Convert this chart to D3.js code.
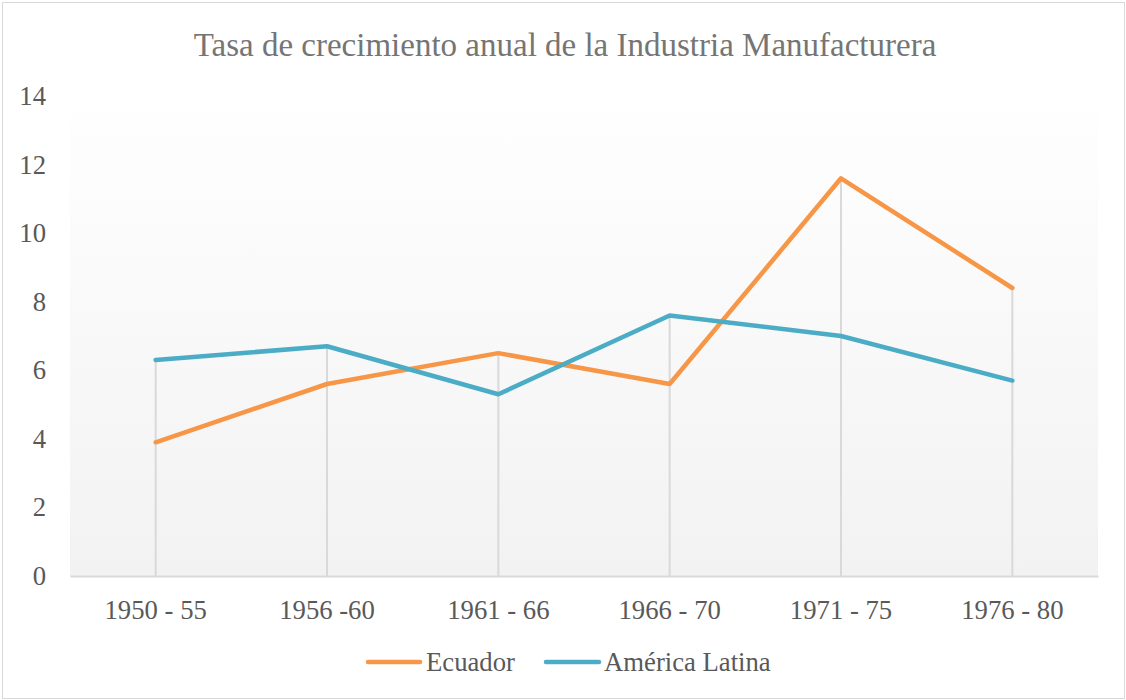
<!DOCTYPE html>
<html><head><meta charset="utf-8">
<script src="https://cdn.jsdelivr.net/npm/d3@7"></script>
<style>body{margin:0;background:#fff}svg{display:block}</style>
</head><body>
<svg id="c" width="1126" height="700"></svg>
<script>
const categories = ["1950 - 55","1956 -60","1961 - 66","1966 - 70","1971 - 75","1976 - 80"];
const ecuador = [3.9,5.6,6.5,5.6,11.6,8.4];
const latam = [6.3,6.7,5.3,7.6,7.0,5.7];
const yTicks = [0,2,4,6,8,10,12,14];
const seriesNames = ["Ecuador","América Latina"];
const colors = ["#F79646","#4BACC6"];

const FONT='"Liberation Serif","Times New Roman",Times,serif';
const svg = d3.select("#c");
const W=1126,H=700;
const m={l:70,r:1098,t:96,b:576};
svg.append("rect").attr("x",2.5).attr("y",2.5).attr("width",W-4).attr("height",H-4).attr("fill","#fff").attr("stroke","#d9d9d9");

const defs=svg.append("defs");
const g=defs.append("linearGradient").attr("id","bg").attr("x1",0).attr("y1",0).attr("x2",0).attr("y2",1);
g.append("stop").attr("offset","0%").attr("stop-color","#ffffff");
g.append("stop").attr("offset","100%").attr("stop-color","#f2f2f2");

const x=d3.scaleBand().domain(categories).range([m.l,m.r]);
const y=d3.scaleLinear().domain([0,14]).range([m.b,m.t]);

svg.append("rect").attr("x",m.l).attr("y",y(14)-10).attr("width",m.r-m.l).attr("height",m.b-y(14)+10).attr("fill","url(#bg)");

svg.append("text").attr("x",565).attr("y",56).attr("text-anchor","middle")
  .style("font-family",FONT).attr("font-size",33).attr("fill","#757575")
  .text("Tasa de crecimiento anual de la Industria Manufacturera");

// y labels
const yAxis=d3.axisLeft(y).tickValues(yTicks).tickSize(0).tickPadding(24);
const ya=svg.append("g").attr("transform",`translate(${m.l},0)`).call(yAxis);
ya.select(".domain").remove();
ya.selectAll("text").style("font-family",FONT).attr("font-size",26.7).attr("fill","#595959");

// drop lines
categories.forEach((c,i)=>{
  const top=Math.max(ecuador[i],latam[i]);
  svg.append("line").attr("x1",x(c)+x.bandwidth()/2).attr("x2",x(c)+x.bandwidth()/2)
    .attr("y1",y(top)).attr("y2",y(0)).attr("stroke","#d9d9d9").attr("stroke-width",2);
});

// x axis
const xAxis=d3.axisBottom(x).tickSize(0).tickPadding(24);
const xa=svg.append("g").attr("transform",`translate(0,${m.b})`).call(xAxis);
xa.select(".domain").attr("stroke","#d9d9d9").attr("stroke-width",2);
xa.selectAll("text").style("font-family",FONT).attr("font-size",26.7).attr("fill","#595959");

const line=d3.line().x((d,i)=>x(categories[i])+x.bandwidth()/2).y(d=>y(d));
[ecuador,latam].forEach((s,k)=>{
  svg.append("path").datum(s).attr("d",line).attr("fill","none").attr("stroke",colors[k])
   .attr("stroke-width",4.5).attr("stroke-linejoin","round").attr("stroke-linecap","round");
});

// legend
const lg=[{x1:368,x2:420,tx:426},{x1:546,x2:599,tx:604}];
seriesNames.forEach((n,k)=>{
  svg.append("line").attr("x1",lg[k].x1).attr("x2",lg[k].x2).attr("y1",662).attr("y2",662)
    .attr("stroke",colors[k]).attr("stroke-width",4.5).attr("stroke-linecap","round");
  svg.append("text").attr("x",lg[k].tx).attr("y",671).style("font-family",FONT)
    .attr("font-size",26.7).attr("fill","#595959").text(n);
});
</script>
</body></html>
